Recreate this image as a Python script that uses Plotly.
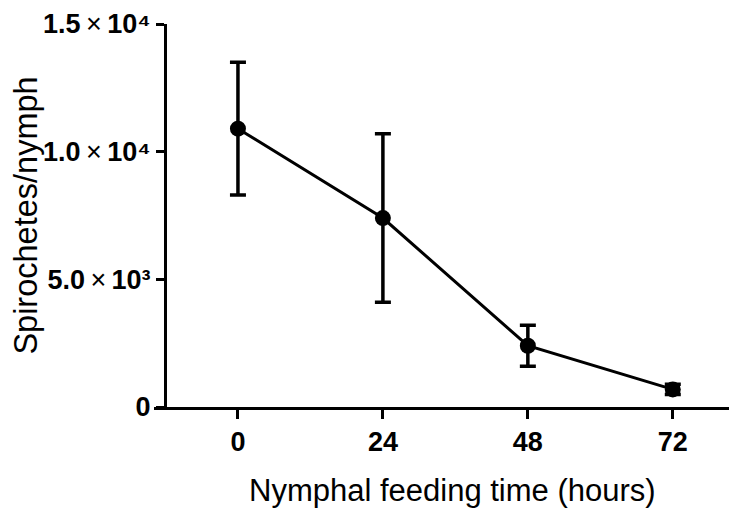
import plotly.graph_objects as go

hours = [0, 24, 48, 72]
spirochetes = [10900, 7400, 2400, 690]
error = [2600, 3300, 800, 200]

x_tick_vals = [0, 24, 48, 72]
x_tick_text = ["0", "24", "48", "72"]
y_tick_vals = [0, 5000, 10000, 15000]
y_tick_text = ["<b>0</b>",
               "<b>5.0</b>\u2009×\u2009<b>10\u00b3</b>",
               "<b>1.0</b>\u2009×\u2009<b>10\u2074</b>",
               "<b>1.5</b>\u2009×\u2009<b>10\u2074</b>"]
x_title = "Nymphal feeding time (hours)"
y_title = "Spirochetes/nymph"

FONT = "Liberation Sans, Arial, sans-serif"

fig = go.Figure()
fig.add_trace(go.Scatter(
    x=hours, y=spirochetes,
    mode="lines+markers",
    line=dict(color="black", width=3),
    marker=dict(color="black", size=16, symbol="circle"),
    error_y=dict(type="data", array=error, visible=True,
                 color="black", thickness=3.5, width=8),
    showlegend=False,
))

# page body has an 8px margin, so the figure is sized/placed to compensate
fig.update_layout(
    width=729, height=503,
    margin=dict(l=146, r=2, t=16, b=104),
    paper_bgcolor="white", plot_bgcolor="white",
    font=dict(family=FONT, color="black"),
    xaxis=dict(
        range=[-13.9, 82.3],
        tickvals=x_tick_vals, ticktext=x_tick_text,
        showline=True, linecolor="black", linewidth=3,
        ticks="outside", ticklen=9, tickwidth=3, tickcolor="black",
        tickfont=dict(size=27, family=FONT, weight="bold"),
        showgrid=False, zeroline=False, automargin=False,
        ticklabeloverflow="allow",
    ),
    yaxis=dict(
        range=[0, 15000],
        anchor="free", position=11/581,
        tickvals=y_tick_vals, ticktext=y_tick_text,
        showline=True, linecolor="black", linewidth=3,
        ticks="outside", ticklen=8, tickwidth=3, tickcolor="black",
        tickfont=dict(size=27, family=FONT),
        showgrid=False, zeroline=False, automargin=False,
        ticklabeloverflow="allow",
        title=dict(text=y_title,
                   font=dict(size=32.5, family=FONT), standoff=12),
    ),
    annotations=[dict(
        text=x_title, xref="paper", yref="paper",
        x=(452 - 154) / 581, y=0, xanchor="center", yanchor="middle",
        yshift=-83, showarrow=False,
        font=dict(size=31, family=FONT, color="black"),
    )],
)

fig.write_html("out.html")
